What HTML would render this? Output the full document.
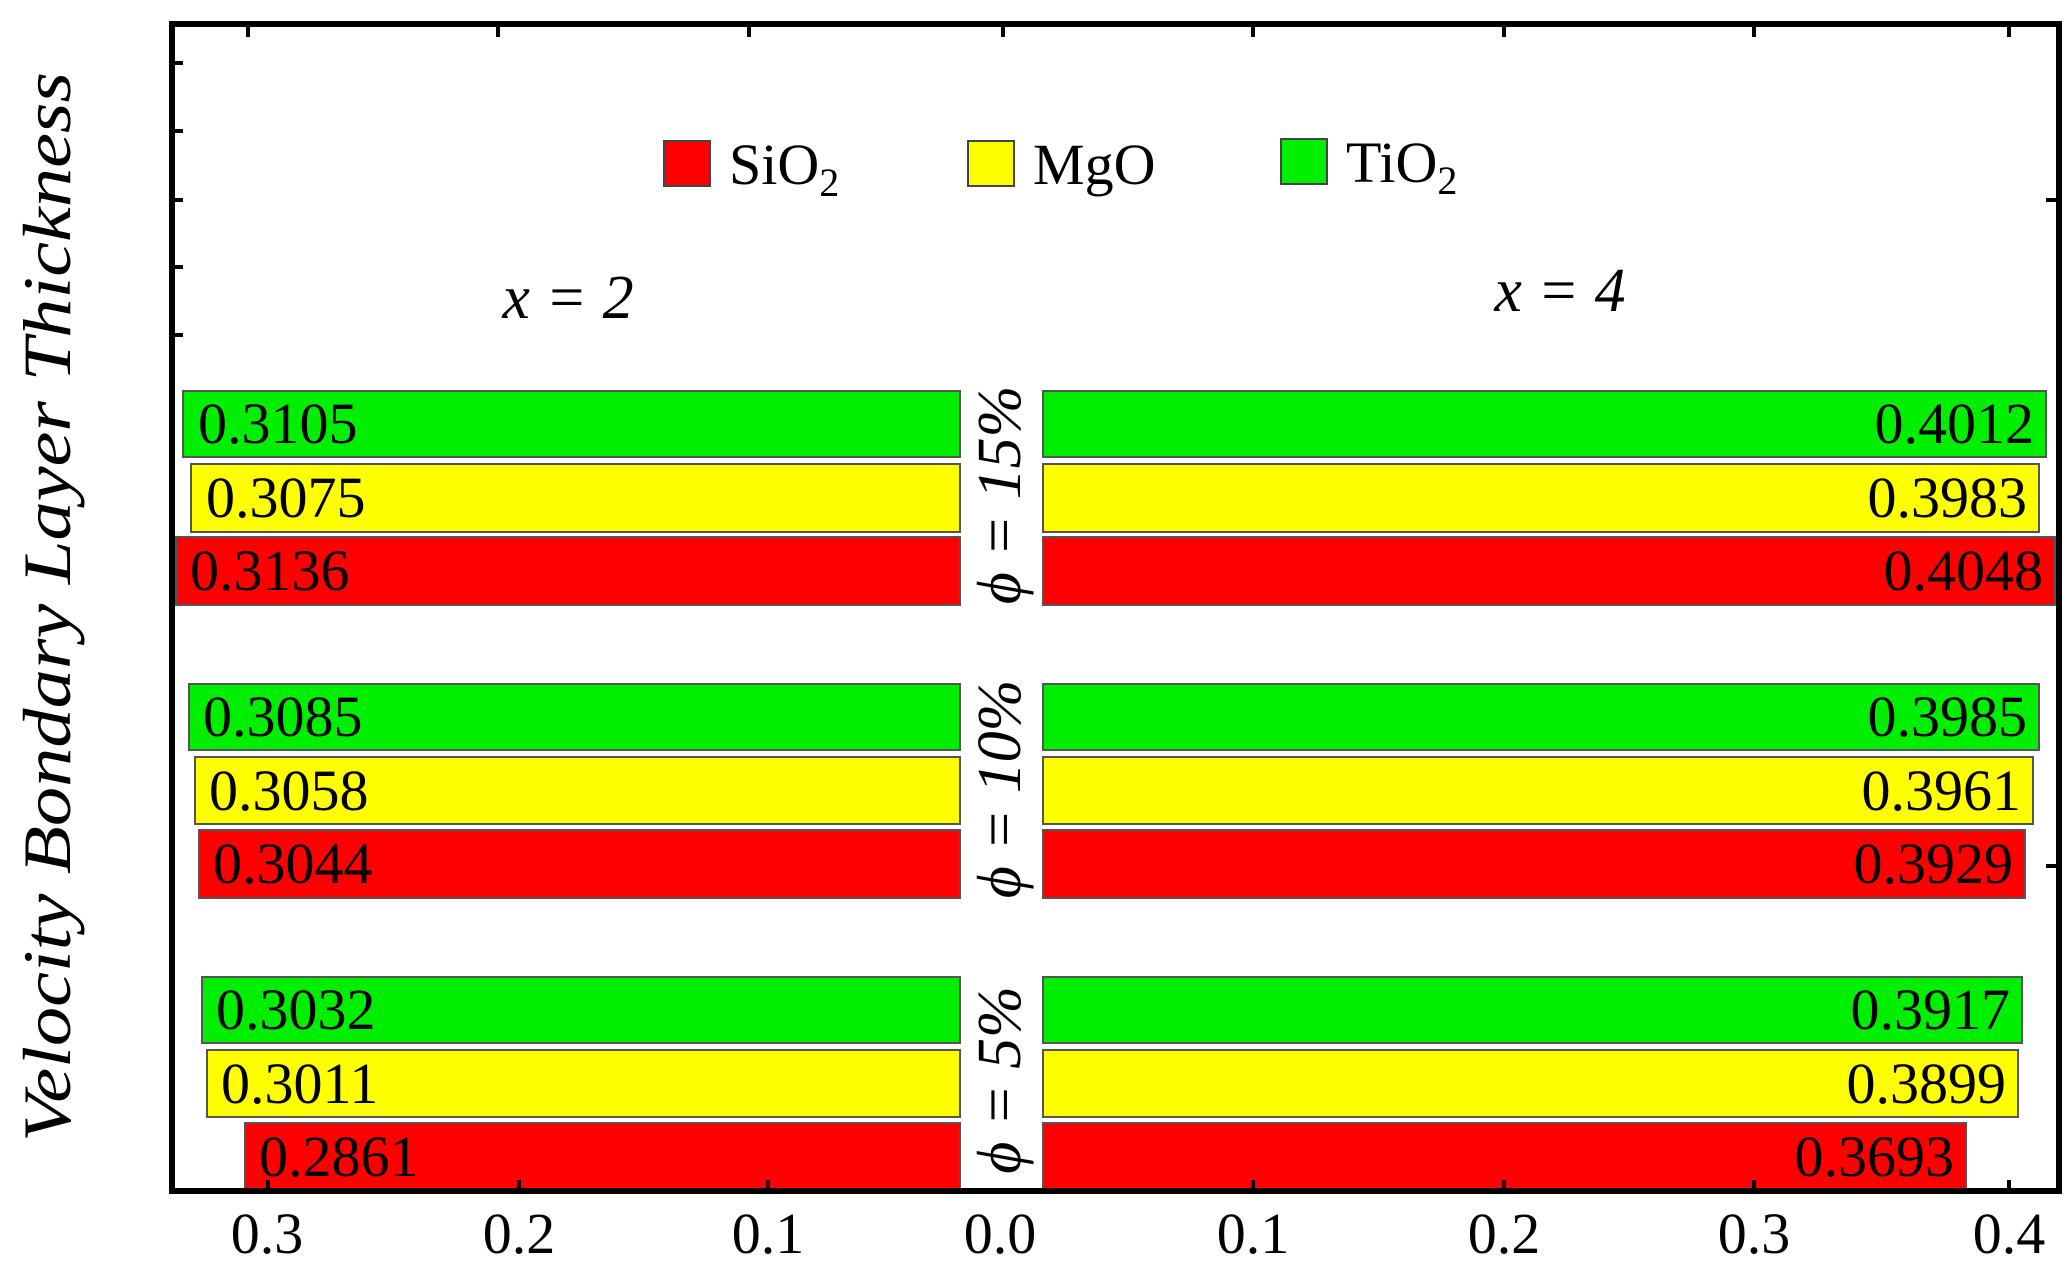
<!DOCTYPE html>
<html><head><meta charset="utf-8"><style>
html,body{margin:0;padding:0;background:#fff;}
svg{display:block;}
text{font-family:"Liberation Serif",serif;}
</style></head><body>
<svg width="2070" height="1281" viewBox="0 0 2070 1281" xmlns="http://www.w3.org/2000/svg">
<rect width="2070" height="1281" fill="#fff"/>
<!-- bars left -->
<g stroke="#555" stroke-width="2">
<rect x="183" y="391" width="777" height="66" fill="#00ee00"/>
<rect x="191" y="464" width="769" height="68" fill="#ffff00"/>
<rect x="176" y="537" width="784" height="68" fill="#ff0000"/>
<rect x="189" y="684" width="771" height="66" fill="#00ee00"/>
<rect x="195" y="757" width="765" height="67" fill="#ffff00"/>
<rect x="199" y="830" width="761" height="68" fill="#ff0000"/>
<rect x="202" y="977" width="758" height="66" fill="#00ee00"/>
<rect x="207" y="1050" width="753" height="67" fill="#ffff00"/>
<rect x="245" y="1123" width="715" height="66" fill="#ff0000"/>
<!-- right -->
<rect x="1043" y="391" width="1003" height="66" fill="#00ee00"/>
<rect x="1043" y="464" width="996" height="68" fill="#ffff00"/>
<rect x="1043" y="537" width="1012" height="68" fill="#ff0000"/>
<rect x="1043" y="684" width="996" height="66" fill="#00ee00"/>
<rect x="1043" y="757" width="990" height="67" fill="#ffff00"/>
<rect x="1043" y="830" width="982" height="68" fill="#ff0000"/>
<rect x="1043" y="977" width="979" height="66" fill="#00ee00"/>
<rect x="1043" y="1050" width="975" height="67" fill="#ffff00"/>
<rect x="1043" y="1123" width="923" height="66" fill="#ff0000"/>
</g>
<g font-size="58" fill="#000">
<text x="198" y="443">0.3105</text>
<text x="206" y="517">0.3075</text>
<text x="190" y="590">0.3136</text>
<text x="203" y="736">0.3085</text>
<text x="209" y="810">0.3058</text>
<text x="213" y="883">0.3044</text>
<text x="216" y="1029">0.3032</text>
<text x="221" y="1103">0.3011</text>
<text x="259" y="1176">0.2861</text>
</g>
<g font-size="58" fill="#000" text-anchor="end">
<text x="2034" y="443">0.4012</text>
<text x="2027" y="517">0.3983</text>
<text x="2043" y="590">0.4048</text>
<text x="2027" y="736">0.3985</text>
<text x="2021" y="810">0.3961</text>
<text x="2013" y="883">0.3929</text>
<text x="2010" y="1029">0.3917</text>
<text x="2006" y="1103">0.3899</text>
<text x="1954" y="1176">0.3693</text>
</g>
<!-- phi labels -->
<g font-size="62" font-style="italic" fill="#000" text-anchor="middle">
<text transform="translate(1020,495) rotate(-90)">ϕ = 15%</text>
<text transform="translate(1020,789) rotate(-90)">ϕ = 10%</text>
<text transform="translate(1020,1080) rotate(-90)">ϕ = 5%</text>
</g>
<!-- x labels -->
<g font-size="62" font-style="italic" fill="#000" text-anchor="middle">
<text x="568" y="318">x = 2</text>
<text x="1560" y="311">x = 4</text>
</g>
<!-- legend -->
<g stroke="#444" stroke-width="2">
<rect x="664" y="141" width="46" height="45" fill="#ff0000"/>
<rect x="968" y="141" width="46" height="45" fill="#ffff00"/>
<rect x="1281" y="139" width="46" height="45" fill="#00ee00"/>
</g>
<g font-size="58" fill="#000">
<text x="729" y="184">SiO<tspan font-size="40" dy="12">2</tspan></text>
<text x="1033" y="184">MgO</text>
<text x="1346" y="182">TiO<tspan font-size="40" dy="12">2</tspan></text>
</g>
<!-- y title -->
<text transform="translate(70,607) rotate(-90)" font-size="68" font-style="italic" text-anchor="middle" textLength="1070" lengthAdjust="spacingAndGlyphs">Velocity Bondary Layer Thickness</text>
<!-- frame -->
<rect x="172" y="24" width="1887" height="1167" fill="none" stroke="#000" stroke-width="6"/>
<g stroke="#000" stroke-width="4">
<line x1="248" y1="27" x2="248" y2="37"/><line x1="498" y1="27" x2="498" y2="37"/><line x1="749" y1="27" x2="749" y2="37"/><line x1="1003" y1="27" x2="1003" y2="37"/>
<line x1="1253" y1="27" x2="1253" y2="37"/><line x1="1504" y1="27" x2="1504" y2="37"/><line x1="1754" y1="27" x2="1754" y2="37"/><line x1="2009" y1="27" x2="2009" y2="37"/>
<line x1="175" y1="63" x2="183" y2="63"/><line x1="175" y1="131" x2="183" y2="131"/><line x1="175" y1="200" x2="183" y2="200"/><line x1="175" y1="267" x2="183" y2="267"/><line x1="175" y1="335" x2="183" y2="335"/>
<line x1="2046" y1="200" x2="2056" y2="200"/><line x1="2046" y1="866" x2="2056" y2="866"/>
<line x1="268" y1="1180" x2="268" y2="1188"/><line x1="519" y1="1180" x2="519" y2="1188"/><line x1="768" y1="1180" x2="768" y2="1188"/>
<line x1="1253" y1="1180" x2="1253" y2="1188"/><line x1="1504" y1="1180" x2="1504" y2="1188"/><line x1="1754" y1="1180" x2="1754" y2="1188"/><line x1="2009" y1="1180" x2="2009" y2="1188"/>
</g>
<!-- tick labels -->
<g font-size="58" fill="#000" text-anchor="middle">
<text x="267" y="1253">0.3</text>
<text x="519" y="1253">0.2</text>
<text x="768" y="1253">0.1</text>
<text x="1000" y="1253">0.0</text>
<text x="1253" y="1253">0.1</text>
<text x="1504" y="1253">0.2</text>
<text x="1754" y="1253">0.3</text>
<text x="2009" y="1253">0.4</text>
</g>
</svg>
</body></html>
